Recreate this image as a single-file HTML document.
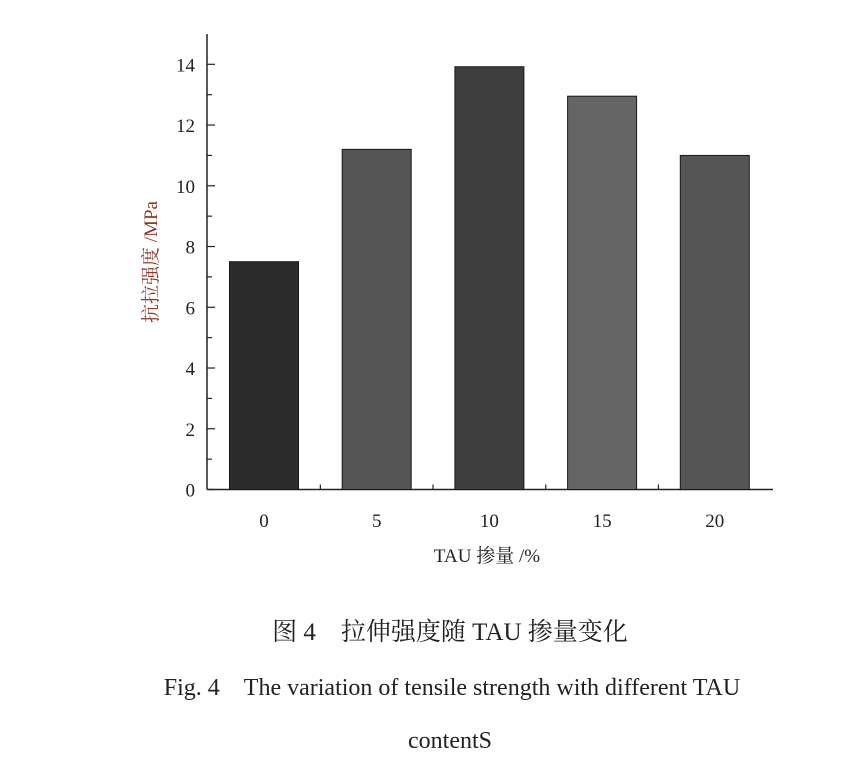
<!DOCTYPE html>
<html><head><meta charset="utf-8"><style>
body{margin:0;background:#fff;width:864px;height:762px;overflow:hidden}
svg{display:block}
text{font-family:"Liberation Serif","Noto Serif CJK SC",serif}
</style></head><body>
<svg id="chart" width="864" height="762" viewBox="0 0 864 762">
<g id="axes"></g><g id="bars"></g>
<text x="157" y="262" font-size="19" fill="#8b3a2a" text-anchor="middle" transform="rotate(-90 157 262)">抗拉强度 /MPa</text>
<text x="487" y="562" font-size="19" fill="#222" text-anchor="middle">TAU 掺量 /%</text>
<text x="450" y="640" font-size="25" fill="#222" text-anchor="middle">图 4　拉伸强度随 TAU 掺量变化</text>
<text x="452" y="695" font-size="24" fill="#222" text-anchor="middle">Fig. 4　The variation of tensile strength with different TAU</text>
<text x="450" y="748" font-size="24" fill="#222" text-anchor="middle">contentS</text>
</svg>
<script>
const categories=["0","5","10","15","20"];
const values=[7.5,11.2,13.92,12.95,11.0];
const colors=["#2b2b2b","#545454","#3e3e3e","#656565","#555555"];
const yTicks=[0,2,4,6,8,10,12,14];
const NS="http://www.w3.org/2000/svg";
const x0=207,x1=773,yBase=489.5,yTopAxis=34,perUnit=(489.5-64.3)/14;
const step=112.7,firstC=264;
const y=v=>yBase-v*perUnit;
const xc=i=>firstC+i*step;
function mk(t,a,p){const e=document.createElementNS(NS,t);for(const k in a)e.setAttribute(k,a[k]);p.appendChild(e);return e;}
const ax=document.getElementById('axes'),bg=document.getElementById('bars');
let l=mk('line',{x1:x0,y1:yTopAxis,x2:x0,y2:yBase,stroke:'#222','stroke-width':1.5},ax);


l=mk('line',{x1:x0,y1:yBase,x2:x1,y2:yBase,stroke:'#222','stroke-width':1.5},ax);


yTicks.forEach(v=>{
 const t=mk('line',{x1:x0,y1:y(v),x2:x0+8,y2:y(v),stroke:'#222','stroke-width':1.2},ax);
 
 
 if(v<14){const m=mk('line',{x1:x0,y1:y(v+1),x2:x0+5,y2:y(v+1),stroke:'#222','stroke-width':1.2},ax);
 
 }
 const tx=mk('text',{x:x0-12,y:y(v)+7,'font-size':19,'text-anchor':'end',fill:'#222'},ax);
 tx.textContent=v;
 
 
});
categories.forEach((c,i)=>{
 const r=mk('rect',{x:xc(i)-34.5,y:y(values[i]),width:69,height:yBase-y(values[i]),fill:colors[i],stroke:'#1a1a1a','stroke-width':1},bg);
 
 
 const t=mk('line',{x1:xc(i),y1:yBase,x2:xc(i),y2:yBase-7,stroke:'#222','stroke-width':1.2},ax);
 
 
 if(i<categories.length-1){const m=mk('line',{x1:xc(i)+step/2,y1:yBase,x2:xc(i)+step/2,y2:yBase-5,stroke:'#222','stroke-width':1.2},ax);
 
 }
 const tx=mk('text',{x:xc(i),y:527,'font-size':19,'text-anchor':'middle',fill:'#222'},ax);
 tx.textContent=c;
 
 
});
</script>
</body></html>
